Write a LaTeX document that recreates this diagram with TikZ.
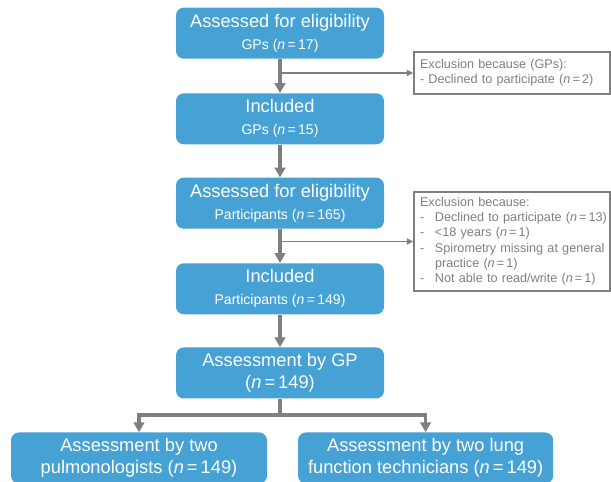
\documentclass[tikz,border=0pt]{standalone}
\usepackage{fontspec}
\setmainfont{Liberation Sans}
\usetikzlibrary{arrows.meta}
\definecolor{StageBlue}{HTML}{46A1D5}
\definecolor{LineGrey}{HTML}{7F7F7F}
\definecolor{NoteGrey}{HTML}{808080}

\begin{document}
\begin{tikzpicture}[x=1cm,y=1cm,stage/.style={rectangle,rounded corners=5.5pt,fill=StageBlue,text=white,minimum width=5.2cm,minimum height=1.275cm,inner sep=2pt,align=center,font=\fontsize{13}{15.6}\selectfont},note/.style={rectangle,draw=LineGrey,line width=1.3pt,fill=white,text=NoteGrey,minimum width=4.9cm,text width=4.6cm,inner xsep=0.15cm,align=left,font=\fontsize{9}{10.7}\selectfont},flow/.style={draw=LineGrey,line width=2.4pt,-{Triangle[width=7.5pt,length=7pt]}},side/.style={draw=LineGrey,line width=0.8pt,-{Triangle[width=4.5pt,length=4.5pt]}}]
\fill[white] (0,0) rectangle (15.275,12.05);
\useasboundingbox (0,0) rectangle (15.275,12.05);
\foreach \name/\y/\title/\group in {gpelig/11.22/{Assessed for eligibility}/{GPs (\textit{n}\,=\,17)},gpincl/9.08/{Included}/{GPs (\textit{n}\,=\,15)},ptelig/6.97/{Assessed for eligibility}/{Participants (\textit{n}\,=\,165)},ptincl/4.83/{Included}/{Participants (\textit{n}\,=\,149)}}{
  \node[stage] (\name) at (7,\y){\title\\{\fontsize{10}{15.6}\selectfont\group}};
}
\node[stage] (gpassess) at (7,2.725){Assessment by GP\\(\textit{n}\,=\,149)};
\node[stage,minimum width=6.4cm] (pulmo) at (3.475,0.6){Assessment by two\\pulmonologists (\textit{n}\,=\,149)};
\node[stage,minimum width=6.375cm] (techs) at (10.64,0.6){Assessment by two lung\\function technicians (\textit{n}\,=\,149)};
\node[note,minimum height=1.05cm] (gpout) at (12.8,10.225){\mbox{Exclusion because (GPs):}\\\mbox{- Declined to participate (\textit{n}\,=\,2)}};
\node[note,minimum height=2.475cm] (ptout) at (12.8,6.0125){\begin{tabular}{@{}p{0.375cm}@{}l@{}}
\multicolumn{2}{@{}l@{}}{Exclusion because:}\\
- & Declined to participate (\textit{n}\,=\,13)\\
- & <18 years (\textit{n}\,=\,1)\\
- & Spirometry missing at general\\
  & practice (\textit{n}\,=\,1)\\
- & Not able to read/write (\textit{n}\,=\,1)
\end{tabular}};
\draw[flow] (gpelig) -- (gpincl);
\draw[flow] (gpincl) -- (ptelig);
\draw[flow] (ptelig) -- (ptincl);
\draw[flow] (ptincl) -- (gpassess);
\coordinate (gpsplit) at (gpelig.south |- gpout.west);
\coordinate (ptsplit) at (ptelig.south |- ptout.west);
\draw[side] (gpsplit) -- (gpout.west);
\draw[side] (ptsplit) -- (ptout.west);
\coordinate (fork) at (7,1.675);
\draw[LineGrey,line width=2.4pt] (gpassess) -- (fork);
\draw[flow] (fork) -| (pulmo);
\draw[flow] (fork) -| (techs);
\end{tikzpicture}
\end{document}
